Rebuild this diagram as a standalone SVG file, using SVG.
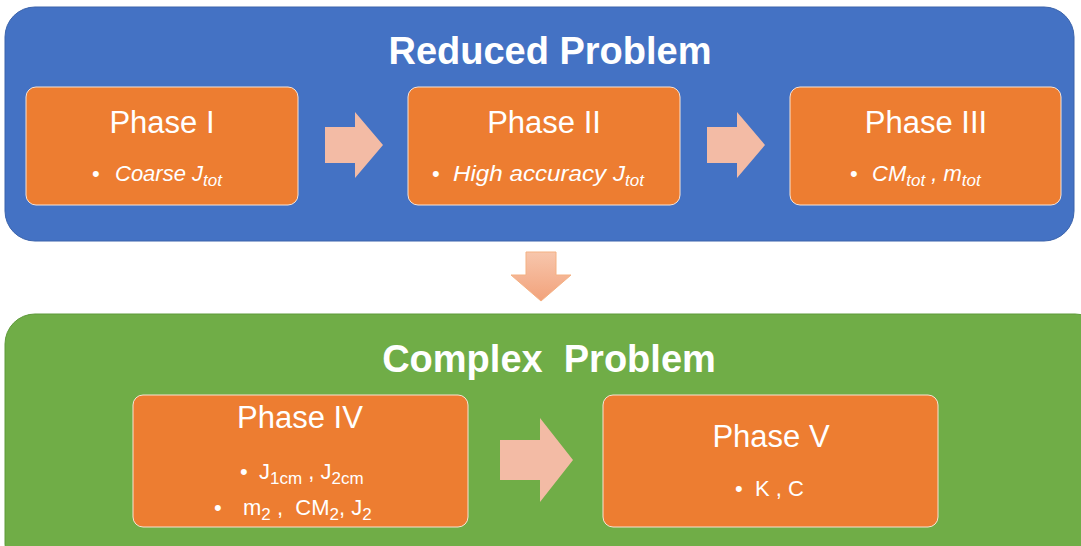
<svg xmlns="http://www.w3.org/2000/svg" width="1081" height="546" viewBox="0 0 1081 546">
<defs>
<linearGradient id="gDown" x1="0" y1="0" x2="0" y2="1">
<stop offset="0" stop-color="#F7C6AC"/>
<stop offset="1" stop-color="#F2A27B"/>
</linearGradient>
<style>
.box{fill:#ED7D31;stroke:#F8E3D3;stroke-width:1}
.title{font-family:"Liberation Sans",Arial,sans-serif;font-weight:bold;font-size:38px;fill:#fff;text-anchor:middle}
.ph{font-family:"Liberation Sans",Arial,sans-serif;font-size:31px;fill:#fff;text-anchor:middle}
.bl{font-family:"Liberation Sans",Arial,sans-serif;font-size:22px;fill:#fff}
.it{font-style:italic}
.arr{fill:#F3BBA5}
</style>
</defs>
<rect id="reduced" x="5" y="7" width="1069" height="234" rx="30" fill="#4472C4" stroke="#3B63AB" stroke-width="1"/>
<rect id="complex" x="5" y="314" width="1100" height="260" rx="30" fill="#70AD47" stroke="#5F9A3B" stroke-width="1"/>
<text class="title" x="550" y="64">Reduced Problem</text>
<text class="title" x="549" y="372" xml:space="preserve">Complex  Problem</text>

<g id="phase1">
<rect class="box" x="26" y="87" width="272" height="118" rx="10"/>
<text class="ph" x="162" y="133">Phase I</text>
<text class="bl" x="92" y="181">•</text>
<text class="bl it" x="115" y="181">Coarse J<tspan font-size="17" dy="5">tot</tspan></text>
</g>
<g id="phase2">
<rect class="box" x="408" y="87" width="272" height="118" rx="10"/>
<text class="ph" x="544" y="133">Phase II</text>
<text class="bl" x="432" y="181">•</text>
<text class="bl it" x="453" y="181"><tspan textLength="172" lengthAdjust="spacingAndGlyphs">High accuracy J</tspan><tspan font-size="17" dy="5">tot</tspan></text>
</g>
<g id="phase3">
<rect class="box" x="790" y="87" width="271" height="118" rx="10"/>
<text class="ph" x="926" y="133">Phase III</text>
<text class="bl" x="850" y="181">•</text>
<text class="bl it" x="872" y="181">CM<tspan font-size="17" dy="5">tot</tspan><tspan dy="-5"> , m</tspan><tspan font-size="17" dy="5">tot</tspan></text>
</g>
<g id="phase4">
<rect class="box" x="133" y="395" width="335" height="132" rx="10"/>
<text class="ph" x="300" y="428">Phase IV</text>
<text class="bl" x="240" y="479">•</text>
<text class="bl" x="259" y="479">J<tspan font-size="17" dy="5">1cm</tspan><tspan dy="-5"> , J</tspan><tspan font-size="17" dy="5">2cm</tspan></text>
<text class="bl" x="214" y="515">•</text>
<text class="bl" x="243" y="515" xml:space="preserve">m<tspan font-size="17" dy="5">2</tspan><tspan dy="-5"> ,  CM</tspan><tspan font-size="17" dy="5">2</tspan><tspan dy="-5">, J</tspan><tspan font-size="17" dy="5">2</tspan></text>
</g>
<g id="phase5">
<rect class="box" x="603" y="395" width="335" height="132" rx="10"/>
<text class="ph" x="771" y="447">Phase V</text>
<text class="bl" x="735" y="496">•</text>
<text class="bl" x="755" y="496">K , C</text>
</g>

<g id="connectors">
<polygon class="arr" points="325,127 355,127 355,112 383,145 355,178 355,163 325,163"/>
<polygon class="arr" points="707,127 737,127 737,112 765,145 737,178 737,163 707,163"/>
<polygon points="526,252 556,252 556,275 571,275 541,301 511,275 526,275" fill="url(#gDown)" stroke="#F4B183" stroke-width="1"/>
<polygon class="arr" points="500,440 540,440 540,418 573,460 540,502 540,480 500,480"/>
</g>
</svg>
